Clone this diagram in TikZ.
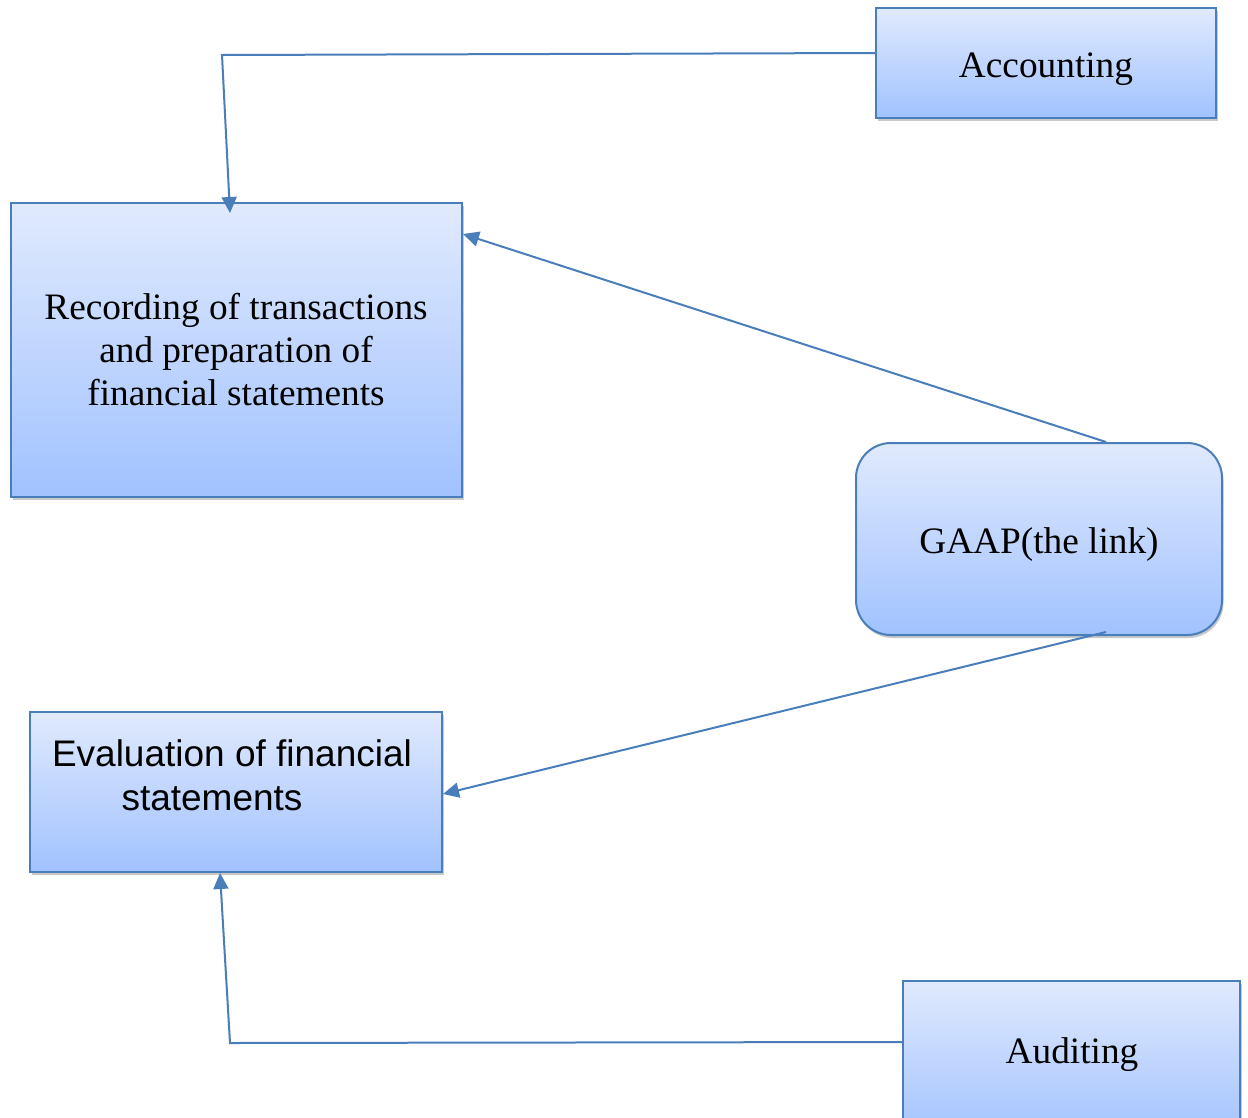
\documentclass[tikz,border=0pt]{standalone}
\usepackage{fontspec}
\setmainfont{Liberation Serif}
\newfontfamily\arialf{Liberation Sans}
\usetikzlibrary{arrows.meta,shadows,calc}
\definecolor{lineblue}{RGB}{74,126,187}
\definecolor{topfill}{RGB}{224,234,253}
\definecolor{botfill}{RGB}{161,194,255}
\tikzset{
  boxshape/.style={draw=lineblue, line width=2pt, top color=topfill, bottom color=botfill,
    inner sep=0pt, drop shadow={shadow xshift=1.5pt, shadow yshift=-3pt, opacity=0.35, fill=black!60}},
  conn/.style={draw=lineblue, line width=2pt},
  arr/.style={conn, -{Triangle[length=16pt,width=15pt]}},
  serift/.style={font=\fontsize{37.3}{43}\selectfont, inner sep=0pt, anchor=base, align=center},
  sanst/.style={font=\arialf\fontsize{37}{43}\selectfont, inner sep=0pt, anchor=base}
}
\begin{document}
\begin{tikzpicture}[x=1pt,y=-1pt]
\useasboundingbox[fill=white] (0,0) rectangle (1248,1117);
% boxes
\node[boxshape, minimum width=340pt, minimum height=110pt] (acc) at (1046,63) {};
\node[boxshape, minimum width=451pt, minimum height=294pt] (rec) at (236.5,350) {};
\node[boxshape, rounded corners=35pt, minimum width=366pt, minimum height=192pt] (gaap) at (1039,539) {};
\node[boxshape, minimum width=412pt, minimum height=160pt] (eval) at (236,792) {};
\node[boxshape, minimum width=337pt, minimum height=160pt] (aud) at (1071.5,1061) {};
% texts
\node[serift] (acct) at (1046,77) {Accounting};
\node[serift] (rect) at (236,405) {Recording of transactions\\and preparation of\\financial statements};
\node[serift] (gaapt) at (1039,553) {GAAP(the link)};
\node[sanst] (evt1) at (232,766) {Evaluation of financial};
\node[sanst] (evt2) at (212,810) {statements};
\node[serift] (audt) at (1072,1063) {Auditing};
% connector coordinates
\coordinate (c1) at ($(acc.north west)+(0,46)$);
\coordinate (c1b) at (222,55);
\coordinate (c1e) at ($(rec.north west)+(220,11)$);
\coordinate (c2s) at ($(gaap.north west)+(251,0)$);
\coordinate (c2e) at ($(rec.north east)+(0,32)$);
\coordinate (c3s) at ($(gaap.south west)+(251,-4)$);
\coordinate (c3e) at ($(eval.north east)+(0,83)$);
\coordinate (c4s) at ($(aud.north west)+(0,62)$);
\coordinate (c4b) at (230,1043);
\coordinate (c4e) at ($(eval.south west)+(191,0)$);
% connectors
\draw[arr] (c1) -- (c1b) -- (c1e);
\draw[arr] (c2s) -- (c2e);
\draw[arr] (c3s) -- (c3e);
\draw[arr] (c4s) -- (c4b) -- (c4e);
\end{tikzpicture}
\end{document}
